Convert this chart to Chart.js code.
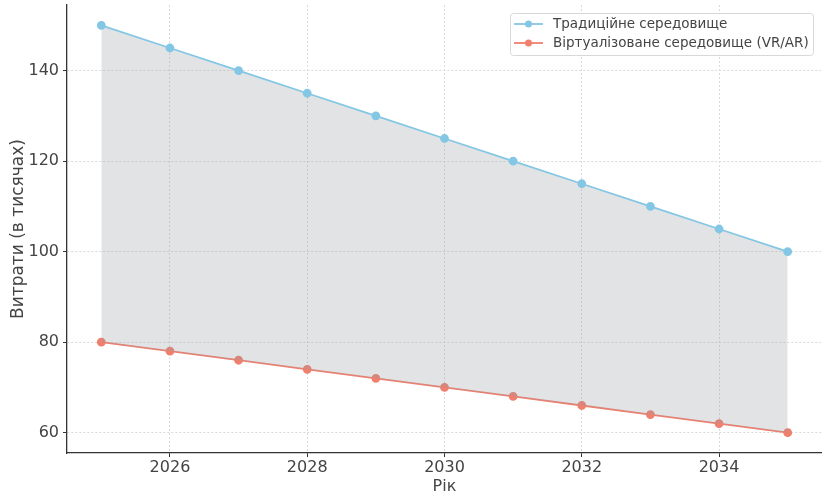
<!DOCTYPE html>
<html>
<head>
<meta charset="utf-8">
<script src="https://cdn.jsdelivr.net/npm/chart.js@4"></script>
<style>
  html, body { margin: 0; padding: 0; background: #fff; }
  #wrap { width: 822px; height: 496px; }
</style>
</head>
<body>
<div id="wrap"><canvas id="costChart"></canvas></div>
<script>
const years = [2025, 2026, 2027, 2028, 2029, 2030, 2031, 2032, 2033, 2034, 2035];
const traditional = [150, 145, 140, 135, 130, 125, 120, 115, 110, 105, 100];
const virtualized = [80, 78, 76, 74, 72, 70, 68, 66, 64, 62, 60];
const xTicks = [2026, 2028, 2030, 2032, 2034];
const yTicks = [60, 80, 100, 120, 140];
const seriesNames = ["Традиційне середовище", "Віртуалізоване середовище (VR/AR)"];

const blue = "#84c7e4";
const red = "#f07f6e";
const font = "DejaVu Sans";

// matplotlib-like legend box in the upper right
const boxLegend = {
  id: "boxLegend",
  afterDraw(chart) {
    const ctx = chart.ctx;
    const x0 = 510, y0 = 13, w = 303, h = 42;
    ctx.save();
    ctx.fillStyle = "rgba(255,255,255,0.85)";
    ctx.strokeStyle = "#d8d8d8";
    ctx.lineWidth = 1;
    ctx.beginPath();
    ctx.roundRect(x0 + 0.5, y0 + 0.5, w, h, 3);
    ctx.fill();
    ctx.stroke();
    chart.data.datasets.forEach((ds, i) => {
      const y = y0 + 11 + i * 19;
      ctx.strokeStyle = ds.borderColor;
      ctx.lineWidth = 1.8;
      ctx.beginPath();
      ctx.moveTo(514, y);
      ctx.lineTo(543, y);
      ctx.stroke();
      ctx.fillStyle = ds.borderColor;
      ctx.beginPath();
      ctx.arc(528.5, y, 3.5, 0, Math.PI * 2);
      ctx.fill();
      ctx.fillStyle = "#444";
      ctx.font = "13.5px '" + font + "'";
      ctx.textBaseline = "middle";
      ctx.fillText(ds.label, 553, y);
    });
    ctx.restore();
  }
};

const ctx = document.getElementById("costChart").getContext("2d");
new Chart(ctx, {
  type: "line",
  data: {
    datasets: [
      {
        label: seriesNames[0],
        data: years.map((y, i) => ({ x: y, y: traditional[i] })),
        borderColor: blue,
        backgroundColor: "rgba(150,155,160,0.28)",
        pointBackgroundColor: blue,
        pointBorderColor: blue,
        pointRadius: 3.5,
        borderWidth: 1.8,
        tension: 0,
        fill: "+1",
      },
      {
        label: seriesNames[1],
        data: years.map((y, i) => ({ x: y, y: virtualized[i] })),
        borderColor: red,
        backgroundColor: red,
        pointBackgroundColor: red,
        pointBorderColor: red,
        pointRadius: 3.5,
        borderWidth: 1.8,
        tension: 0,
        fill: false,
      },
    ],
  },
  options: {
    responsive: true,
    maintainAspectRatio: false,
    animation: false,
    layout: { autoPadding: false, padding: { top: 5, right: 0, left: 0, bottom: 0 } },
    plugins: { legend: { display: false }, tooltip: { enabled: false } },
    scales: {
      x: {
        type: "linear",
        min: 2024.5,
        max: 2035.5,
        afterBuildTicks: (s) => { s.ticks = xTicks.map((v) => ({ value: v })); },
        afterFit: (s) => { s.height = 43; s.paddingLeft = 0; s.paddingRight = 0; },
        ticks: {
          color: "#444",
          font: { family: font, size: 16 },
          padding: 1,
          callback: (v) => String(v),
        },
        grid: {
          color: "#dadada",
          tickColor: "#333",
          tickLength: 4,
          tickBorderDash: [],
        },
        border: { color: "#333", width: 1.3, dash: [2, 2] },
        title: {
          display: true,
          text: "Рік",
          color: "#444",
          font: { family: font, size: 16 },
          padding: { top: 0, bottom: 0 },
        },
      },
      y: {
        min: 55.5,
        max: 154.5,
        afterBuildTicks: (s) => { s.ticks = yTicks.map((v) => ({ value: v })); },
        afterFit: (s) => { s.width = 67; s.paddingTop = 0; s.paddingBottom = 0; },
        ticks: {
          color: "#444",
          font: { family: font, size: 16 },
          padding: 4,
        },
        grid: {
          color: "#dadada",
          tickColor: "#333",
          tickLength: 4,
          tickBorderDash: [],
        },
        border: { color: "#333", width: 1.3, dash: [2, 2] },
        title: {
          display: true,
          text: "Витрати (в тисячах)",
          color: "#444",
          font: { family: font, size: 17 },
          padding: { top: 8, bottom: 6 },
        },
      },
    },
  },
  plugins: [boxLegend],
});
</script>
</body>
</html>
